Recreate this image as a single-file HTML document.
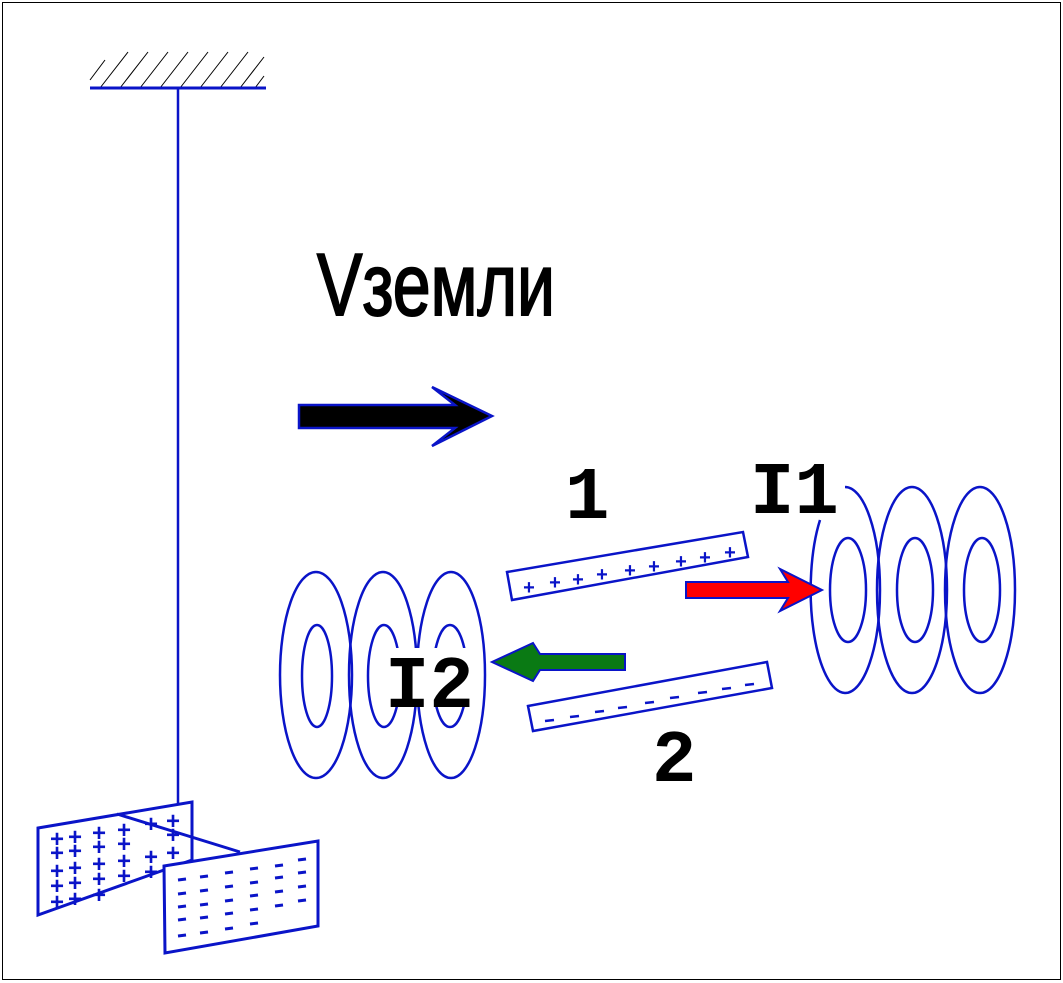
<!DOCTYPE html>
<html><head><meta charset="utf-8"><style>html,body{margin:0;padding:0;background:#fff}svg{display:block}</style></head>
<body>
<svg width="1063" height="983" viewBox="0 0 1063 983" xmlns="http://www.w3.org/2000/svg">
<rect x="0" y="0" width="1063" height="983" fill="#fff"/>
<rect x="2.5" y="2.5" width="1058" height="977" fill="none" stroke="#000" stroke-width="1"/>
<g stroke="#000" stroke-width="1">
<line x1="90" y1="80" x2="105" y2="60"/>
<line x1="100" y1="88" x2="128" y2="52"/>
<line x1="120" y1="88" x2="148" y2="52"/>
<line x1="140" y1="88" x2="168" y2="52"/>
<line x1="160" y1="88" x2="188" y2="52"/>
<line x1="180" y1="88" x2="208" y2="52"/>
<line x1="200" y1="88" x2="228" y2="52"/>
<line x1="220" y1="88" x2="248" y2="52"/>
<line x1="240" y1="88" x2="264" y2="57"/>
<line x1="255" y1="88" x2="264" y2="76"/>
</g>
<g stroke="#0a14c8" fill="none">
<line x1="90" y1="88" x2="266" y2="88" stroke-width="3"/>
<line x1="178" y1="88" x2="178" y2="862" stroke-width="2.5"/>
<polygon points="38,828 192,802 192,860 38,915" fill="#fff" stroke-width="3"/>
<line x1="117" y1="814" x2="240" y2="852" stroke-width="3"/>
<polygon points="164,866 318,841 318,926 165,953" fill="#fff" stroke-width="3"/>
</g>
<g fill="#0a14c8" font-family="Liberation Sans, sans-serif" font-weight="bold" font-size="24" text-anchor="middle">
<text x="57" y="847">+</text><text x="75" y="845">+</text><text x="99" y="841">+</text><text x="124" y="838">+</text><text x="151" y="832">+</text><text x="173" y="829">+</text>
<text x="57" y="861">+</text><text x="75" y="859">+</text><text x="99" y="855">+</text><text x="124" y="852">+</text><text x="173" y="843">+</text>
<text x="57" y="879">+</text><text x="75" y="876">+</text><text x="99" y="872">+</text><text x="124" y="869">+</text><text x="151" y="865">+</text><text x="173" y="861">+</text>
<text x="57" y="894">+</text><text x="75" y="891">+</text><text x="99" y="887">+</text><text x="124" y="884">+</text><text x="151" y="880">+</text>
<text x="57" y="910">+</text><text x="75" y="907">+</text><text x="99" y="903">+</text>
</g>
<g stroke="#0a14c8" stroke-width="3">
<line x1="178" y1="880" x2="186" y2="879"/><line x1="200" y1="877" x2="208" y2="876"/><line x1="225" y1="873" x2="233" y2="872"/><line x1="250" y1="869" x2="258" y2="868"/><line x1="275" y1="866" x2="283" y2="865"/><line x1="298" y1="860" x2="306" y2="859"/>
<line x1="178" y1="894" x2="186" y2="893"/><line x1="200" y1="891" x2="208" y2="890"/><line x1="225" y1="887" x2="233" y2="886"/><line x1="250" y1="883" x2="258" y2="882"/><line x1="275" y1="878" x2="283" y2="877"/><line x1="298" y1="873" x2="306" y2="872"/>
<line x1="178" y1="907" x2="186" y2="906"/><line x1="200" y1="905" x2="208" y2="904"/><line x1="225" y1="901" x2="233" y2="900"/><line x1="250" y1="896" x2="258" y2="895"/><line x1="275" y1="892" x2="283" y2="891"/><line x1="298" y1="887" x2="306" y2="886"/>
<line x1="178" y1="920" x2="186" y2="919"/><line x1="200" y1="918" x2="208" y2="917"/><line x1="225" y1="914" x2="233" y2="913"/><line x1="250" y1="910" x2="258" y2="909"/><line x1="275" y1="906" x2="283" y2="905"/><line x1="298" y1="901" x2="306" y2="900"/>
<line x1="178" y1="936" x2="186" y2="935"/><line x1="200" y1="933" x2="208" y2="932"/><line x1="225" y1="929" x2="233" y2="928"/><line x1="250" y1="924" x2="258" y2="923"/>
</g>
<text x="317" y="315" font-family="Liberation Sans, DejaVu Sans, sans-serif" font-size="88" textLength="238" lengthAdjust="spacingAndGlyphs" fill="#000" stroke="#000" stroke-width="2">Vземли</text>
<polygon points="299,405 455,405 432,387 492,416 432,446 455,428 299,428" fill="#000" stroke="#0a14c8" stroke-width="2.5"/>
<g font-family="Liberation Mono, DejaVu Sans Mono, monospace" font-size="74" font-weight="bold" fill="#000">
<text x="565" y="518">1</text>
<text x="750" y="513">I1</text>
<text x="652" y="781">2</text>
</g>
<g stroke="#0a14c8" stroke-width="2.5" fill="none">
<polygon points="507,572 743,532 748,557 512,600"/>
<polygon points="528,706 767,662 772,688 533,731"/>
</g>
<g fill="#0a14c8" font-family="Liberation Sans, sans-serif" font-weight="bold" font-size="20" text-anchor="middle">
<text x="529" y="594">+</text><text x="555" y="589">+</text><text x="578" y="586">+</text><text x="602" y="581">+</text><text x="630" y="577">+</text><text x="654" y="573">+</text><text x="681" y="568">+</text><text x="705" y="564">+</text><text x="730" y="559">+</text>
</g>
<g stroke="#0a14c8" stroke-width="2.5">
<line x1="545" y1="721" x2="554" y2="720"/><line x1="570" y1="717" x2="579" y2="716"/><line x1="595" y1="712" x2="604" y2="711"/><line x1="618" y1="708" x2="627" y2="707"/><line x1="645" y1="703" x2="654" y2="702"/><line x1="670" y1="698" x2="679" y2="697"/><line x1="698" y1="693" x2="707" y2="692"/><line x1="722" y1="689" x2="731" y2="688"/><line x1="745" y1="685" x2="754" y2="684"/>
</g>
<g stroke="#0a14c8" stroke-width="2.5" fill="none">
<path d="M845,487 A35,103 0 0 1 845,693 A35,103 0 0 1 820,520"/>
<ellipse cx="912" cy="590" rx="35" ry="103"/>
<ellipse cx="980" cy="590" rx="35" ry="103"/>
<ellipse cx="848" cy="590" rx="18" ry="52"/>
<ellipse cx="915" cy="590" rx="18" ry="52"/>
<ellipse cx="982" cy="590" rx="18" ry="52"/>
</g>
<g stroke="#0a14c8" stroke-width="2.5" fill="none">
<ellipse cx="316" cy="675" rx="36" ry="103"/>
<ellipse cx="383" cy="675" rx="34" ry="103"/>
<ellipse cx="451" cy="675" rx="34" ry="103"/>
<ellipse cx="317" cy="676" rx="15" ry="51"/>
<ellipse cx="384" cy="676" rx="16" ry="51"/>
<ellipse cx="450" cy="676" rx="17" ry="51"/>
</g>
<rect x="390" y="648" width="80" height="58" fill="#fff"/>
<text x="385" y="707" font-family="Liberation Mono, DejaVu Sans Mono, monospace" font-size="74" font-weight="bold" fill="#000">I2</text>
<polygon points="686,582 788,582 780,569 822,590 780,611 788,598 686,598" fill="#f00" stroke="#0a14c8" stroke-width="2"/>
<polygon points="625,654 540,654 533,643 492,662 533,681 540,670 625,670" fill="#0a7a14" stroke="#0a14c8" stroke-width="2"/>
</svg>
</body></html>
